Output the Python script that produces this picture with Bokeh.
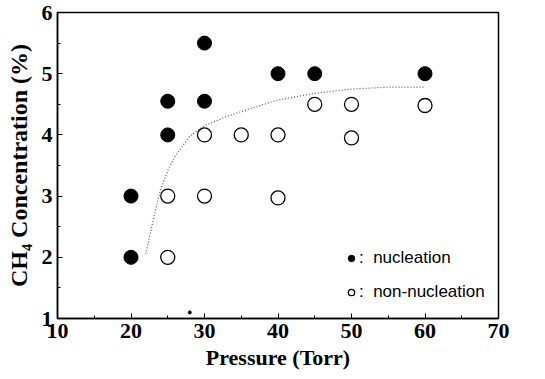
from bokeh.plotting import figure
from bokeh.models import Range1d, FixedTicker, Legend, LegendItem
from bokeh.embed import file_html
from bokeh.resources import INLINE

# Data
nuc_p = [20, 20, 25, 25, 30, 30, 40, 45, 60]
nuc_c = [2.0, 3.0, 4.0, 4.55, 4.55, 5.5, 5.0, 5.0, 5.0]
non_p = [25, 25, 30, 30, 35, 40, 40, 45, 50, 50, 60]
non_c = [2.0, 3.0, 3.0, 4.0, 4.0, 4.0, 2.97, 4.5, 4.5, 3.95, 4.48]
curve_p = [22, 23, 24, 25, 26, 28, 30, 33, 36, 40, 45, 50, 55, 60]
curve_c = [2.05, 2.6, 3.1, 3.42, 3.65, 3.98, 4.15, 4.3, 4.42, 4.57, 4.68, 4.75, 4.78, 4.78]
speck_p = [28]
speck_c = [1.1]

x_ticks = [10, 20, 30, 40, 50, 60, 70]
x_minor = [15, 25, 35, 45, 55, 65]
y_ticks = [1, 2, 3, 4, 5, 6]
y_minor = [1.5, 2.5, 3.5, 4.5, 5.5]

SERIF = "Liberation Serif"
SANS = "Liberation Sans"

p = figure(width=545, height=379, output_backend="svg", toolbar_location=None,
           x_range=Range1d(10, 70), y_range=Range1d(1, 6),
           min_border_left=57, min_border_right=47, min_border_top=12, min_border_bottom=61)
p.background_fill_color = "white"
p.border_fill_color = "white"
p.outline_line_color = "black"
p.outline_line_width = 1.5
p.grid.visible = False

for ax in (p.xaxis[0], p.yaxis[0]):
    ax.axis_line_color = "black"
    ax.axis_line_width = 1.5
    ax.major_tick_in = 5
    ax.major_tick_out = 0
    ax.minor_tick_in = 3
    ax.minor_tick_out = 0
    ax.major_tick_line_color = "black"
    ax.minor_tick_line_color = "black"
    ax.major_label_text_font = SERIF
    ax.major_label_text_font_style = "bold"
    ax.major_label_text_font_size = "22px"
    ax.major_label_text_color = "black"
    ax.axis_label_text_font = SERIF
    ax.axis_label_text_font_style = "bold"
    ax.axis_label_text_font_size = "22px"
    ax.axis_label_text_color = "black"

p.yaxis.axis_label_text_font_size = "24px"
p.xaxis.ticker = FixedTicker(ticks=x_ticks, minor_ticks=x_minor)
p.yaxis.ticker = FixedTicker(ticks=y_ticks, minor_ticks=y_minor)
p.xaxis.axis_label = "Pressure (Torr)"
p.yaxis.axis_label = "CH\u2084 Concentration (%)"
p.xaxis.major_label_standoff = 5
p.xaxis.axis_label_standoff = 4
p.yaxis.major_label_standoff = 5
p.yaxis.axis_label_standoff = 7

p.line(curve_p, curve_c, line_color="#555555", line_width=1.2, line_dash="1 2")
r_nuc = p.scatter(nuc_p, nuc_c, size=14, marker="circle", fill_color="black", line_color="black")
r_non = p.scatter(non_p, non_c, size=14, marker="circle", fill_color="white", line_color="black", line_width=1.3)
p.scatter(speck_p, speck_c, size=3, marker="circle", fill_color="black", line_color="black")

legend = Legend(items=[LegendItem(label=":  nucleation", renderers=[r_nuc]),
                       LegendItem(label=":  non-nucleation", renderers=[r_non])],
                location=(286, 16), orientation="vertical",
                border_line_color=None, background_fill_alpha=0,
                label_text_font=SANS, label_text_font_size="17px",
                label_text_color="black",
                glyph_width=16, glyph_height=16, label_standoff=0,
                spacing=14, padding=0, margin=0)
p.add_layout(legend)

open("out.html", "w").write(file_html(p, INLINE))
